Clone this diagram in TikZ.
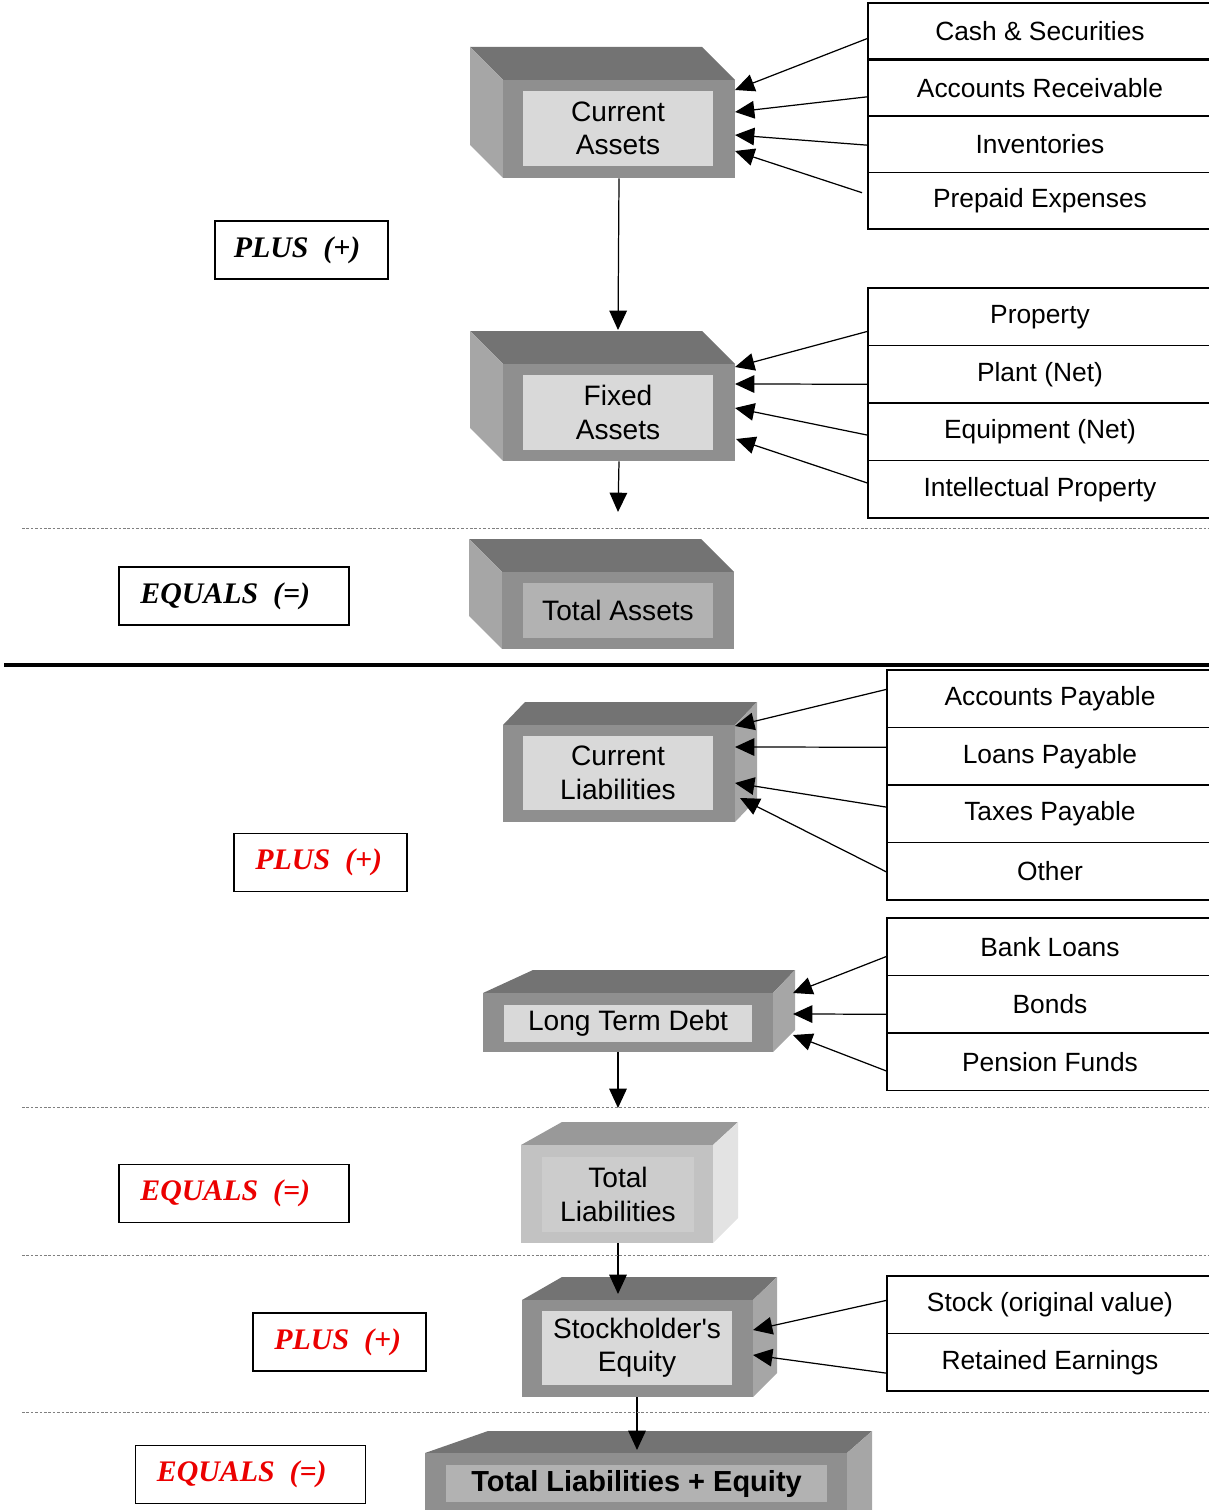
\documentclass[tikz,border=0pt]{standalone}
\usepackage{fontspec}
\setmainfont{Liberation Sans}
\newfontfamily\opfont{Liberation Serif}
\usetikzlibrary{arrows.meta}
\usetikzlibrary{positioning,calc}
\definecolor{topgray}{gray}{0.45}
\definecolor{sidegray}{gray}{0.65}
\definecolor{frontgray}{gray}{0.56}
\definecolor{lblgray}{gray}{0.85}
\definecolor{lbldark}{gray}{0.70}
\definecolor{tltop}{gray}{0.60}
\definecolor{tlfront}{gray}{0.76}
\definecolor{tlside}{gray}{0.89}
\definecolor{tllbl}{gray}{0.80}
\definecolor{opred}{RGB}{235,0,0}
\tikzset{
    front/.style={fill=frontgray, inner sep=0pt},
    lbl/.style={fill=lblgray, inner sep=0pt, align=center, font=\fontsize{16}{19}\selectfont},
    item/.style={draw, line width=0.9pt, outer sep=0pt, minimum height=1.15cm, inner sep=0pt, font=\fontsize{15}{18}\selectfont},
    opbox/.style={draw, line width=1.1pt, minimum height=1.16cm, inner sep=0pt, font=\opfont\bfseries\itshape\fontsize{17}{20}\selectfont},
    arr/.style={-{Triangle[length=11pt,width=10pt]}, line width=0.7pt},
    sep/.style={gray, line width=0.5pt, dash pattern=on 1.5pt off 1pt}
}
\begin{document}
\begin{tikzpicture}[x=0.02cm, y=-0.02cm]
        \useasboundingbox (0,0) rectangle (1209,1510);
        \clip (0,0) rectangle (1209,1510);

        \fill[topgray] (503,80) -- (470,47) -- (702,47) -- (735,80) -- cycle;
        \fill[sidegray] (503,80) -- (470,47) -- (470,145) -- (503,178) -- cycle;
        \node[front, minimum width=4.64cm, minimum height=1.96cm] (caBox) at (619,129) {};
        \node[lbl, minimum width=3.8cm, minimum height=1.5cm] (caLbl) at (618,128.5) {Current\\Assets};

        \fill[topgray] (503,364) -- (470,331) -- (702,331) -- (735,364) -- cycle;
        \fill[sidegray] (503,364) -- (470,331) -- (470,428) -- (503,461) -- cycle;
        \node[front, minimum width=4.64cm, minimum height=1.94cm] (faBox) at (619,412.5) {};
        \node[lbl, minimum width=3.8cm, minimum height=1.5cm] (faLbl) at (618,412.5) {Fixed\\Assets};

        \fill[topgray] (502,572) -- (469,539) -- (701,539) -- (734,572) -- cycle;
        \fill[sidegray] (502,572) -- (469,539) -- (469,616) -- (502,649) -- cycle;
        \node[front, minimum width=4.64cm, minimum height=1.54cm] (taBox) at (618,610.5) {};
        \node[lbl, fill=lbldark, minimum width=3.8cm, minimum height=1.1cm] (taLbl) at (618,610.5) {Total Assets};

        \fill[topgray] (503,725) -- (525,702) -- (757,702) -- (735,725) -- cycle;
        \fill[sidegray] (735,725) -- (757,702) -- (757,799) -- (735,822) -- cycle;
        \node[front, minimum width=4.64cm, minimum height=1.94cm] (clBox) at (619,773.5) {};
        \node[lbl, minimum width=3.8cm, minimum height=1.48cm] (clLbl) at (618,773) {Current\\Liabilities};

        \fill[topgray] (483,993) -- (533,970) -- (795,970) -- (773,993) -- cycle;
        \fill[sidegray] (773,993) -- (795,970) -- (795,1030) -- (773,1052) -- cycle;
        \node[front, minimum width=5.8cm, minimum height=1.18cm] (ltdBox) at (628,1022.5) {};
        \node[lbl, minimum width=4.96cm, minimum height=0.74cm] (ltdLbl) at (628,1023.5) {Long Term Debt};

        \fill[tltop] (521,1145) -- (562,1122) -- (738,1122) -- (713,1145) -- cycle;
        \fill[tlside] (713,1145) -- (738,1122) -- (738,1218) -- (713,1243) -- cycle;
        \node[front, fill=tlfront, minimum width=3.84cm, minimum height=1.96cm] (tlBox) at (617,1194) {};
        \node[lbl, fill=tllbl, minimum width=3.04cm, minimum height=1.5cm] (tlLbl) at (618,1194.5) {Total\\Liabilities};

        \fill[topgray] (522,1300) -- (562,1277) -- (777,1277) -- (753,1300) -- cycle;
        \fill[sidegray] (753,1300) -- (777,1277) -- (777,1373) -- (753,1397) -- cycle;
        \node[front, minimum width=4.62cm, minimum height=1.94cm] (seBox) at (637.5,1348.5) {};
        \node[lbl, minimum width=3.8cm, minimum height=1.48cm] (seLbl) at (637,1348) {Stockholder\textquotesingle s\\Equity};

        \fill[topgray] (425,1453) -- (488,1431) -- (872,1431) -- (847,1453) -- cycle;
        \fill[sidegray] (847,1453) -- (872,1431) -- (872,1515) -- (847,1515) -- cycle;
        \node[front, minimum width=8.44cm, minimum height=1.24cm] (tleBox) at (636,1484) {};
        \node[lbl, fill=lbldark, minimum width=7.62cm, minimum height=0.74cm, font=\bfseries\fontsize{16.5}{19}\selectfont] (tleLbl) at (636.5,1483.5) {Total Liabilities + Equity};

        \node[item, minimum width=6.88cm, minimum height=1.13cm, anchor=north west] (cash) at (868,3) {Cash \& Securities};
        \node[item, minimum width=6.88cm, minimum height=1.13cm, below=0pt of cash] (recv) {Accounts Receivable};
        \node[item, minimum width=6.88cm, minimum height=1.13cm, below=0pt of recv] (invent) {Inventories};
        \node[item, minimum width=6.88cm, minimum height=1.13cm, below=0pt of invent] (prepaid) {Prepaid Expenses};
        \draw[line width=2pt] (cash.south west) -- (cash.south east);

        \node[item, minimum width=6.88cm, anchor=north west] (property) at (868,288) {Property};
        \node[item, minimum width=6.88cm, below=0pt of property] (plant) {Plant (Net)};
        \node[item, minimum width=6.88cm, below=0pt of plant] (equip) {Equipment (Net)};
        \node[item, minimum width=6.88cm, below=0pt of equip] (intprop) {Intellectual Property};

        \node[item, minimum width=6.52cm, anchor=north west] (apay) at (887,670) {Accounts Payable};
        \node[item, minimum width=6.52cm, below=0pt of apay] (lpay) {Loans Payable};
        \node[item, minimum width=6.52cm, below=0pt of lpay] (tpay) {Taxes Payable};
        \node[item, minimum width=6.52cm, below=0pt of tpay] (other) {Other};

        \node[item, minimum width=6.52cm, anchor=north west] (bank) at (887,918) {Bank Loans};
        \node[item, minimum width=6.52cm, below=0pt of bank] (bonds) {Bonds};
        \node[item, minimum width=6.52cm, below=0pt of bonds] (pension) {Pension Funds};

        \node[item, minimum width=6.52cm, anchor=north west] (stock) at (887,1276) {Stock (original value)};
        \node[item, minimum width=6.52cm, below=0pt of stock] (retained) {Retained Earnings};

        \node[opbox, minimum width=3.46cm] (plusA) at (301.5,250) {PLUS\ \ (+)\hspace*{5pt}};
        \node[opbox, minimum width=4.6cm] (eqA) at (234,596) {EQUALS\ \ (=)\hspace*{10pt}};
        \node[opbox, text=opred, minimum width=3.46cm] (plusB) at (320.5,862.5) {PLUS\ \ (+)\hspace*{2pt}};
        \node[opbox, text=opred, minimum width=4.6cm] (eqB) at (234,1193.5) {EQUALS\ \ (=)\hspace*{10pt}};
        \node[opbox, text=opred, minimum width=3.46cm] (plusC) at (339.5,1342) {PLUS\ \ (+)\hspace*{2pt}};
        \node[opbox, text=opred, minimum width=4.6cm] (eqC) at (250.5,1474.5) {EQUALS\ \ (=)\hspace*{10pt}};

        \coordinate (ca1) at (735,90);
        \coordinate (ca2) at (735,112);
        \coordinate (ca3) at (735,135);
        \coordinate (ca4) at (735,151);
        \coordinate (fa1) at (735,367);
        \coordinate (fa2) at (735,384);
        \coordinate (fa3) at (735,408);
        \coordinate (fa4) at (736,439);
        \coordinate (cl1) at (735,726);
        \coordinate (cl2) at (735,747);
        \coordinate (cl3) at (735,783);
        \coordinate (cl4) at (740,798);
        \coordinate (ltd1) at (793,993);
        \coordinate (ltd2) at (793,1014);
        \coordinate (ltd3) at (793,1035);
        \coordinate (se1) at (753,1330);
        \coordinate (se2) at (753,1355);

        \draw[arr] ($(cash.west)+(0,7)$) -- (ca1);
        \draw[arr] ($(recv.west)+(0,9)$) -- (ca2);
        \draw[arr] ($(invent.west)+(0,1)$) -- (ca3);
        \draw[arr] ($(prepaid.west)+(-6,-8)$) -- (ca4);
        \draw[arr] ($(property.west)+(0,14.5)$) -- (fa1);
        \draw[arr] ($(plant.west)+(0,10)$) -- (fa2);
        \draw[arr] ($(equip.west)+(0,3.5)$) -- (fa3);
        \draw[arr] ($(intprop.west)+(0,-6)$) -- (fa4);
        \draw[arr] ($(apay.west)+(0,-9.5)$) -- (cl1);
        \draw[arr] ($(lpay.west)+(0,-9)$) -- (cl2);
        \draw[arr] ($(tpay.west)+(0,-6.5)$) -- (cl3);
        \draw[arr] ($(other.west)+(0,1)$) -- (cl4);
        \draw[arr] ($(bank.west)+(0,9.5)$) -- (ltd1);
        \draw[arr] ($(bonds.west)+(0,10)$) -- (ltd2);
        \draw[arr] ($(pension.west)+(0,9.5)$) -- (ltd3);
        \draw[arr] ($(stock.west)+(0,-4.5)$) -- (se1);
        \draw[arr] ($(retained.west)+(0,11)$) -- (se2);

        \coordinate (faTop) at (618,330);
        \coordinate (faDown) at (618,512);
        \coordinate (ltdFoot) at (618,1052);
        \coordinate (ltdDown) at (618,1108);
        \coordinate (tlFoot) at (618,1243);
        \coordinate (seTop) at (618,1294);
        \coordinate (seFoot) at (637,1397);
        \coordinate (tleTop) at (637,1450);

        \draw[arr] (caBox.south) -- (faTop);
        \draw[arr] (faBox.south) -- (faDown);
        \draw[arr] (ltdFoot) -- (ltdDown);
        \draw[arr] (tlFoot) -- (seTop);
        \draw[arr] (seFoot) -- (tleTop);

        \draw[sep] (22,528) -- (1209,528);
        \draw[sep] (22,1107) -- (1209,1107);
        \draw[sep] (22,1255) -- (1209,1255);
        \draw[sep] (22,1412) -- (1209,1412);
        \draw[line width=2.8pt] (4,665) -- (1209,665);

    \end{tikzpicture}
\end{document}
